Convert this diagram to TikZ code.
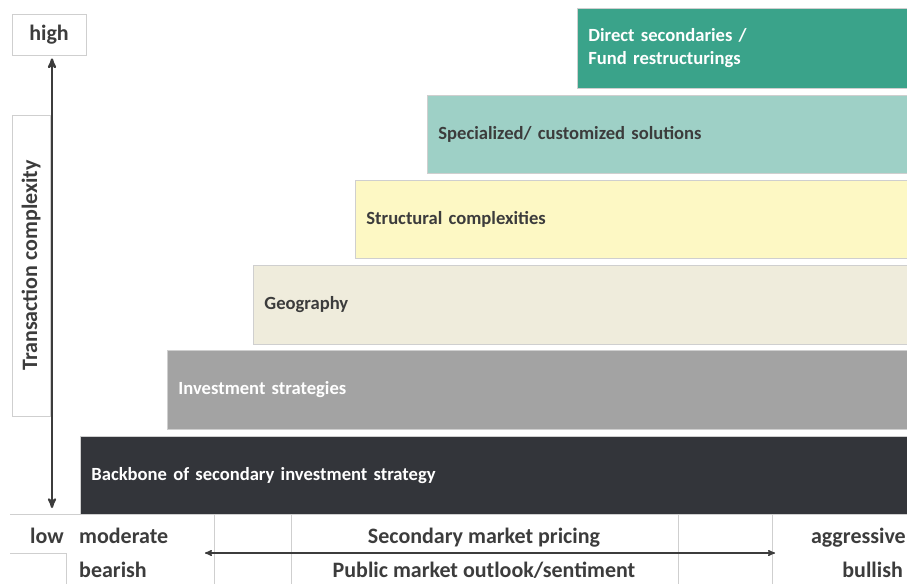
\documentclass[tikz,border=0pt]{standalone}
\usepackage{fontspec}
\setmainfont{Carlito}
\usepackage{tikz}
\usetikzlibrary{arrows,positioning}

\definecolor{teal1}{HTML}{3AA38A}
\definecolor{teal2}{HTML}{9ED0C6}
\definecolor{yellow1}{HTML}{FDF8C4}
\definecolor{beige1}{HTML}{EFECDC}
\definecolor{gray1}{HTML}{A3A3A3}
\definecolor{dark1}{HTML}{33353A}
\definecolor{ink}{HTML}{3C3C3C}
\definecolor{rule}{HTML}{CFCFCF}

\begin{document}
\begin{tikzpicture}[x=1pt,y=-1pt,>=stealth',
    bar node/.style={draw=rule,line width=0.8pt,inner xsep=11pt,minimum height=78.5pt,align=left,
      font=\bfseries\fontsize{18.6}{23}\selectfont,text=ink},
    axis node/.style={draw=rule,line width=0.8pt,font=\bfseries\fontsize{22}{26}\selectfont,text=ink},
    scale node/.style={inner sep=0pt,font=\bfseries\fontsize{22}{26}\selectfont,text=ink}
    ]
  \useasboundingbox (0,0) rectangle (907,584);

  % steps, top to bottom
  \node[bar node,fill=teal1,text=white,minimum height=80pt,text width=308pt,anchor=north west]
        (direct) at (577,8) {Direct secondaries /\\Fund restructurings};
  \node[bar node,fill=teal2,text width=458pt] (special)
        [below=5.9pt of direct.south east,anchor=north east] {Specialized/ customized solutions};
  \node[bar node,fill=yellow1,text width=530pt] (struct)
        [below=5.9pt of special.south east,anchor=north east] {Structural complexities};
  \node[bar node,fill=beige1,text width=632pt] (geo)
        [below=5.9pt of struct.south east,anchor=north east] {Geography};
  \node[bar node,fill=gray1,text=white,text width=718pt] (invest)
        [below=5.9pt of geo.south east,anchor=north east] {Investment strategies};
  \node[bar node,fill=dark1,text=white,text width=805pt] (backbone)
        [below=5.9pt of invest.south east,anchor=north east] {Backbone of secondary investment strategy};

  % complexity axis
  \node[axis node,minimum width=74pt,minimum height=41pt] (high) at (49,34.5) {high};
  \node[axis node,rotate=90,minimum width=301pt,minimum height=38pt] (complexity) at (31,265.5) {Transaction complexity};
  \coordinate (lowtip) at (52,508);
  \draw[<->,line width=2.2pt,ink,shorten <=3pt] ([xshift=3pt]high.south) -- (lowtip);

  % pricing table
  \draw[rule,line width=0.8pt] (10,514) -- (907,514)
        (10,553) -- (66,553) -- (66,584)
        (214,514) -- (214,584) (291,514) -- (291,584)
        (678,514) -- (678,584) (772,514) -- (772,584);
  \node[scale node,anchor=base east] (low) at (64,543) {low};
  \node[scale node,anchor=base west] (moderate) at (79,543) {moderate};
  \node[scale node,anchor=base west] (bearish) at (79,577) {bearish};
  \node[scale node,anchor=base] (pricing) at (484,543) {Secondary market pricing};
  \node[scale node,anchor=base] (outlook) at (484,577) {Public market outlook/sentiment};
  \node[scale node,anchor=base east] (aggressive) at (906,543) {aggressive};
  \node[scale node,anchor=base east] (bullish) at (903,577) {bullish};
  \coordinate (bearend) at (205,553);
  \coordinate (bullend) at (775,553);
  \draw[<->,line width=1.4pt,ink] (bearend) -- (bullend);

\end{tikzpicture}
\end{document}
